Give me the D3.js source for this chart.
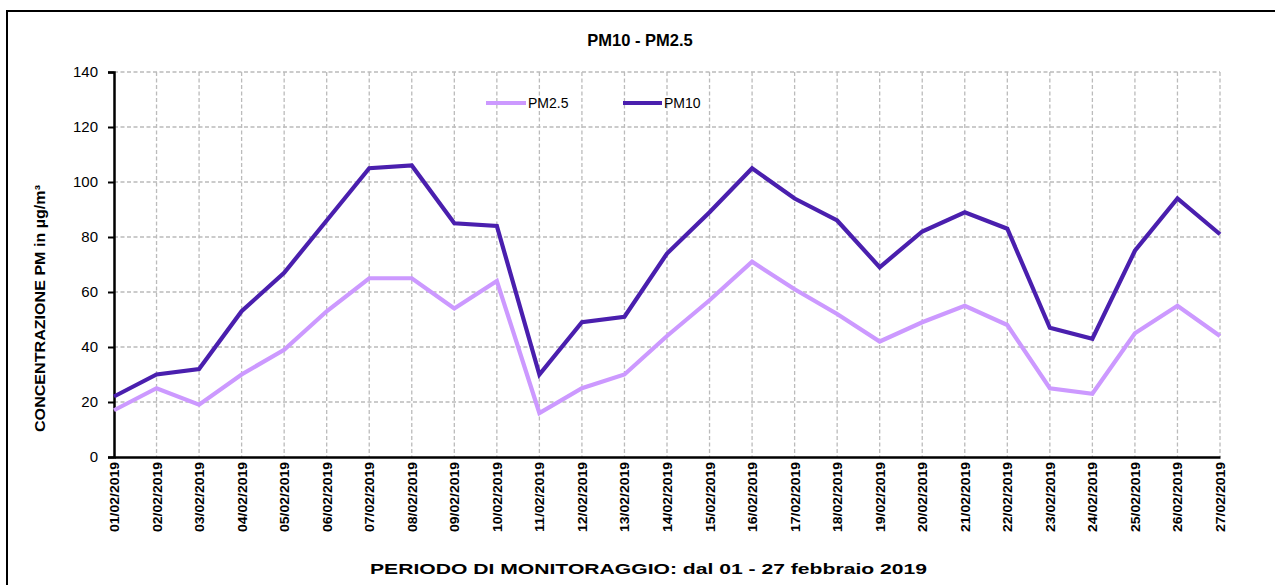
<!DOCTYPE html>
<html><head><meta charset="utf-8">
<script src="https://cdn.jsdelivr.net/npm/d3@7"></script>
<style>body{margin:0;background:#fff}svg{display:block}text{font-family:"Liberation Sans",Arial,sans-serif}</style>
</head><body>
<script>
const dates = ["01/02/2019","02/02/2019","03/02/2019","04/02/2019","05/02/2019","06/02/2019","07/02/2019","08/02/2019","09/02/2019","10/02/2019","11/02/2019","12/02/2019","13/02/2019","14/02/2019","15/02/2019","16/02/2019","17/02/2019","18/02/2019","19/02/2019","20/02/2019","21/02/2019","22/02/2019","23/02/2019","24/02/2019","25/02/2019","26/02/2019","27/02/2019"];
const pm25 = [17,25,19,30,39,53,65,65,54,64,16,25,30,44,57,71,61,52,42,49,55,48,25,23,45,55,44];
const pm10 = [22,30,32,53,67,86,105,106,85,84,30,49,51,74,89,105,94,86,69,82,89,83,47,43,75,94,81];
const yTicks = [0,20,40,60,80,100,120,140];
const seriesNames = ["PM2.5","PM10"];
const seriesColors = ["#CC99FF","#4A1FAE"];

const W=1275,H=585;
const svg=d3.select("body").append("svg").attr("width",W).attr("height",H);
svg.append("rect").attr("x",7).attr("y",11).attr("width",W).attr("height",H).attr("fill","none").attr("stroke","#000").attr("stroke-width",2);

const x=d3.scalePoint().domain(dates).range([114,1220]);
const y=d3.scaleLinear().domain([0,140]).range([457,72]);

// grid
svg.append("g").selectAll("line").data(yTicks.filter(d=>d>0)).join("line")
  .attr("x1",114).attr("x2",1220).attr("y1",d=>y(d)).attr("y2",d=>y(d))
  .attr("stroke","#bbb").attr("stroke-width",1.3).attr("stroke-dasharray","4,2.5");
svg.append("g").selectAll("line").data(dates.slice(1)).join("line")
  .attr("x1",d=>x(d)).attr("x2",d=>x(d)).attr("y1",72).attr("y2",457)
  .attr("stroke","#bbb").attr("stroke-width",1.3).attr("stroke-dasharray","4,2.5");

// y axis
const ya=svg.append("g").attr("transform","translate(114,0)")
  .call(d3.axisLeft(y).tickValues(yTicks).tickSize(6).tickPadding(10));
ya.select(".domain").attr("stroke","#000").attr("stroke-width",2.5);
ya.selectAll(".tick line").attr("stroke","#000").attr("stroke-width",2);
ya.selectAll(".tick text").attr("font-size",15).attr("fill","#000").attr("font-family","Liberation Sans, Arial");

// x axis
const xa=svg.append("g").attr("transform","translate(0,457)")
  .call(d3.axisBottom(x).tickSize(0).tickPadding(0));
xa.select(".domain").attr("stroke","#000").attr("stroke-width",2.5);
xa.selectAll(".tick text")
  .attr("transform","translate(4.5,5) rotate(-90)")
  .attr("text-anchor","end").attr("dy","0").attr("x",0).attr("y",0)
  .attr("font-size",12.5).attr("font-weight","bold").attr("fill","#000")
  .attr("textLength",70).attr("lengthAdjust","spacingAndGlyphs")
  .attr("font-family","Liberation Sans, Arial");

// lines
const line=d3.line().x((d,i)=>x(dates[i])).y(d=>y(d));
[pm25,pm10].forEach((s,k)=>{
  svg.append("path").datum(s).attr("d",line).attr("fill","none")
    .attr("stroke",seriesColors[k]).attr("stroke-width",4.2).attr("stroke-linejoin","miter");
});

// legend
const lg=[{x1:486,x2:526,tx:528},{x1:623,x2:662,tx:664}];
lg.forEach((l,k)=>{
  svg.append("line").attr("x1",l.x1).attr("x2",l.x2).attr("y1",103).attr("y2",103)
    .attr("stroke",seriesColors[k]).attr("stroke-width",4);
  svg.append("text").attr("x",l.tx).attr("y",108).attr("font-size",14).attr("fill","#000").text(seriesNames[k]);
});

// titles
svg.append("text").attr("x",640).attr("y",46).attr("text-anchor","middle")
  .attr("font-size",16.5).attr("font-weight","bold").text("PM10 - PM2.5");
svg.append("text").attr("x",370).attr("y",574).attr("font-size",15.5).attr("font-weight","bold")
  .attr("textLength",557).attr("lengthAdjust","spacingAndGlyphs")
  .text("PERIODO DI MONITORAGGIO: dal 01 - 27 febbraio 2019");
svg.append("text").attr("transform","translate(45,432) rotate(-90)").attr("font-size",14.5).attr("font-weight","bold")
  .attr("textLength",247).attr("lengthAdjust","spacingAndGlyphs")
  .text("CONCENTRAZIONE PM in µg/m³");
</script>
</body></html>
